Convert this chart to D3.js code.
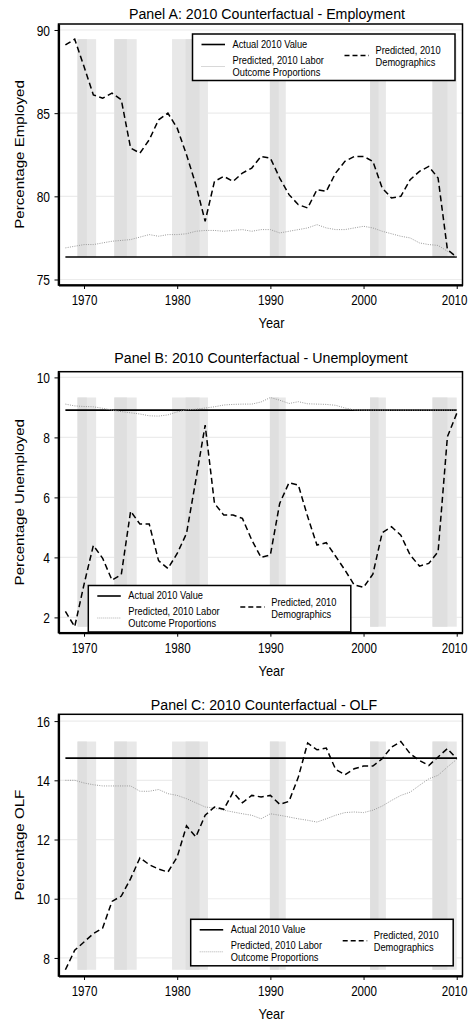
<!DOCTYPE html>
<html>
<head>
<meta charset="utf-8">
<script src="https://cdn.jsdelivr.net/npm/d3@7"></script>
<style>body{margin:0;background:#fff;}</style>
</head>
<body>
<script>
// years on the x axis
const years = [1968,1969,1970,1971,1972,1973,1974,1975,1976,1977,
               1978,1979,1980,1981,1982,1983,1984,1985,1986,1987,
               1988,1989,1990,1991,1992,1993,1994,1995,1996,1997,
               1998,1999,2000,2001,2002,2003,2004,2005,2006,2007,
               2008,2009,2010];
const xTicks = [1970,1980,1990,2000,2010];

// Panel A - employment
const empDemog = [89.1,89.45,87.8,86.1,85.9,86.2,85.8,82.9,82.6,83.4,
                  84.6,85.0,84.1,82.5,80.7,78.5,80.9,81.2,80.9,81.4,
                  81.7,82.4,82.3,81.1,80.1,79.5,79.3,80.4,80.3,81.4,
                  82.1,82.4,82.4,82.1,80.5,79.9,80.0,81.0,81.5,81.8,
                  81.1,76.8,76.35];
const empLabor = [76.9,77.0,77.1,77.1,77.2,77.3,77.35,77.4,77.55,77.7,
                  77.6,77.7,77.7,77.75,77.9,77.95,77.95,77.9,77.95,78.0,
                  77.9,78.0,78.0,77.8,77.9,78.0,78.1,78.3,78.1,78.0,
                  78.0,78.1,78.2,78.1,77.9,77.75,77.6,77.5,77.2,77.1,
                  77.05,76.7,76.35];
const empActual = 76.35;
const empTicks = [75,80,85,90];

// Panel B - unemployment
const unempDemog = [2.2,1.69,3.1,4.4,3.97,3.24,3.43,5.54,5.11,5.11,
                    3.89,3.63,4.13,4.8,6.58,8.41,5.8,5.41,5.41,5.3,
                    4.58,4.0,4.08,5.8,6.49,6.41,5.36,4.41,4.49,4.04,
                    3.58,3.08,3.0,3.44,4.82,5.02,4.74,4.08,3.71,3.8,
                    4.19,8.02,8.8];
const unempLabor = [9.11,9.05,9.03,9.02,8.97,8.91,8.86,8.82,8.78,8.72,
                    8.71,8.75,8.85,8.92,8.94,8.98,9.02,9.08,9.1,9.11,
                    9.11,9.18,9.33,9.24,9.13,9.19,9.12,9.11,9.1,9.07,
                    8.98,8.92,8.91,8.91,8.91,8.91,8.91,8.91,8.91,8.91,
                    8.91,8.91,8.91];
const unempActual = 8.91;
const unempTicks = [2,4,6,8,10];

// Panel C - out of labor force
const olfDemog = [7.6,8.26,8.54,8.82,9.01,9.91,10.09,10.68,11.38,11.15,
                  11.0,10.9,11.41,12.46,12.09,12.82,13.1,13.02,13.6,13.24,
                  13.49,13.44,13.49,13.19,13.29,14.11,15.26,15.03,15.09,14.37,
                  14.19,14.39,14.48,14.48,14.73,15.12,15.31,14.9,14.67,14.5,
                  14.79,15.07,14.73];
const olfLabor = [14.0,14.0,13.91,13.85,13.81,13.81,13.81,13.81,13.63,13.63,
                  13.69,13.55,13.49,13.38,13.24,13.1,13.06,12.99,12.93,12.87,
                  12.82,12.7,12.87,12.82,12.76,12.7,12.65,12.59,12.7,12.82,
                  12.91,12.93,12.91,12.99,13.13,13.32,13.49,13.6,13.83,14.05,
                  14.17,14.45,14.71];
const olfActual = 14.75;
const olfTicks = [8,10,12,14,16];

// recession shading (light band, darker core)
const recStart  = [1969.3,1973.25,1979.45,1989.95,2000.7,2007.4];
const recEnd    = [1971.3,1975.65,1983.3,1991.65,2002.4,2010.0];
const coreStart = [1969.3,1973.25,1980.9,1989.95,2000.7,2007.4];
const coreEnd   = [1970.3,1974.6,1982.4,1990.9,2001.6,2009.0];

const legendLabels = ["Actual 2010 Value", ["Predicted, 2010 Labor","Outcome Proportions"], ["Predicted, 2010","Demographics"]];

let width = 469, height = 1022;

let svg = d3.select("body").append("svg")
  .attr("width", width)
  .attr("height", height)
  .attr("font-family", "'Liberation Sans', Arial, Helvetica, sans-serif");

let x = d3.scaleLinear().domain([1967.26, 2010.62]).range([58.5, 462.5]);

let panels = [
  {title:"Panel A: 2010 Counterfactual - Employment", ylab:"Percentage Employed",
   demog:empDemog, labor:empLabor, actual:empActual, ticks:empTicks,
   domain:[74.67, 90.36], top:24, bottom:285, titleX:267, titleY:18.5, leg:[192.5, 34]},
  {title:"Panel B: 2010 Counterfactual - Unemployment", ylab:"Percentage Unemployed",
   demog:unempDemog, labor:unempLabor, actual:unempActual, ticks:unempTicks,
   domain:[1.49, 10.19], top:371.7, bottom:632.7, titleX:261, titleY:363, leg:[88.3, 585.5]},
  {title:"Panel C: 2010 Counterfactual - OLF", ylab:"Percentage OLF",
   demog:olfDemog, labor:olfLabor, actual:olfActual, ticks:olfTicks,
   domain:[7.39, 16.23], top:714.3, bottom:976, titleX:264, titleY:709.5, leg:[190.7, 919.3]}
];

function stretchText(sel, tx, ty, sy) {
  return sel.attr("transform", "translate(" + tx + "," + ty + ") scale(1," + sy + ")");
}

panels.forEach(function(p) {
  let y = d3.scaleLinear().domain(p.domain).range([p.bottom, p.top]);
  let g = svg.append("g");
  let x0 = x.range()[0], x1 = x.range()[1];

  // grid
  g.selectAll(".grid").data(p.ticks).enter().append("line")
    .attr("x1", x0).attr("x2", x1)
    .attr("y1", d => y(d)).attr("y2", d => y(d))
    .attr("stroke", "#ececec").attr("stroke-width", 1.2);

  // recession bands span the range of the plotted values
  let ext = d3.extent(p.demog.concat(p.labor, [p.actual]));
  g.selectAll(".band").data(recStart).enter().append("rect")
    .attr("x", (d, i) => x(d))
    .attr("width", (d, i) => x(recEnd[i]) - x(d))
    .attr("y", y(ext[1]))
    .attr("height", y(ext[0]) - y(ext[1]))
    .attr("fill", "#e8e8e8");
  g.selectAll(".core").data(coreStart).enter().append("rect")
    .attr("x", (d, i) => x(d))
    .attr("width", (d, i) => x(coreEnd[i]) - x(d))
    .attr("y", y(ext[1]))
    .attr("height", y(ext[0]) - y(ext[1]))
    .attr("fill", "#dfdfdf");

  let line = d3.line().x((d, i) => x(years[i])).y(d => y(d));

  // actual 2010 value
  g.append("line")
    .attr("x1", x(years[0])).attr("x2", x(years[years.length - 1]))
    .attr("y1", y(p.actual)).attr("y2", y(p.actual))
    .attr("stroke", "#000").attr("stroke-width", 1.6);

  g.append("path").datum(p.labor)
    .attr("d", line).attr("fill", "none")
    .attr("stroke", "#9a9a9a").attr("stroke-width", 1)
    .attr("stroke-dasharray", "1,1.3");

  g.append("path").datum(p.demog)
    .attr("d", line).attr("fill", "none")
    .attr("stroke", "#000").attr("stroke-width", 1.5)
    .attr("stroke-dasharray", "6,3.5");

  // frame
  g.append("rect")
    .attr("x", x0).attr("y", p.top)
    .attr("width", x1 - x0).attr("height", p.bottom - p.top)
    .attr("fill", "none").attr("stroke", "#000").attr("stroke-width", 1.5);

  // axes
  let ya = g.append("g").attr("transform", "translate(" + x0 + ",0)")
    .call(d3.axisLeft(y).tickValues(p.ticks).tickSize(4).tickSizeOuter(0));
  ya.select(".domain").attr("stroke-width", 2.2);
  ya.selectAll(".tick line").attr("stroke-width", 1);
  ya.selectAll(".tick text").attr("x", null).attr("dy", null).attr("y", null)
    .attr("font-size", 12).attr("fill", "#000")
    .each(function() { stretchText(d3.select(this), -8.5, 5.2, 1.2); });

  let xa = g.append("g").attr("transform", "translate(0," + p.bottom + ")")
    .call(d3.axisBottom(x).tickValues(xTicks).tickFormat(d3.format("d")).tickSize(4).tickSizeOuter(0));
  xa.select(".domain").attr("stroke-width", 2.2);
  xa.selectAll(".tick line").attr("stroke-width", 1);
  xa.selectAll(".tick text").attr("y", null).attr("dy", null)
    .attr("font-size", 11.6).attr("fill", "#000")
    .each(function(d, i, nodes) {
      // last label sits a little left so it stays inside the page
      let shift = i === nodes.length - 1 ? -2.6 : 0;
      stretchText(d3.select(this), shift, 20, 1.22);
    });

  // titles
  stretchText(svg.append("text"), p.titleX, p.titleY, 1.08)
    .attr("text-anchor", "middle").attr("font-size", 14.2).text(p.title);

  stretchText(svg.append("text"), 271.5, p.bottom + 43, 1.2)
    .attr("text-anchor", "middle").attr("font-size", 12.8).text("Year");

  svg.append("text")
    .attr("transform", "translate(24," + ((p.top + p.bottom) / 2) + ") rotate(-90) scale(1.12,1)")
    .attr("text-anchor", "middle").attr("font-size", 13.5).text(p.ylab);

  // legend
  let lg = svg.append("g").attr("transform", "translate(" + p.leg[0] + "," + p.leg[1] + ")");
  lg.append("rect").attr("width", 262.5).attr("height", 46.5)
    .attr("fill", "#fff").attr("stroke", "#000").attr("stroke-width", 1.5);
  lg.append("line").attr("x1", 9).attr("x2", 32.5).attr("y1", 10.5).attr("y2", 10.5)
    .attr("stroke", "#000").attr("stroke-width", 1.6);
  lg.append("line").attr("x1", 9).attr("x2", 32.5).attr("y1", 32.5).attr("y2", 32.5)
    .attr("stroke", "#b0b0b0").attr("stroke-width", 1).attr("stroke-dasharray", "1,1");
  lg.append("line").attr("x1", 152).attr("x2", 176.5).attr("y1", 21.5).attr("y2", 21.5)
    .attr("stroke", "#000").attr("stroke-width", 1.5).attr("stroke-dasharray", "5,3");

  stretchText(lg.append("text"), 40, 13.5, 1.1).attr("font-size", 9.3).text(legendLabels[0]);
  stretchText(lg.append("text"), 40, 29.5, 1.1).attr("font-size", 9.3).text(legendLabels[1][0]);
  stretchText(lg.append("text"), 40, 41.5, 1.1).attr("font-size", 9.3).text(legendLabels[1][1]);
  stretchText(lg.append("text"), 183, 20, 1.1).attr("font-size", 9.3).text(legendLabels[2][0]);
  stretchText(lg.append("text"), 183, 32, 1.1).attr("font-size", 9.3).text(legendLabels[2][1]);
});
</script>
</body>
</html>
